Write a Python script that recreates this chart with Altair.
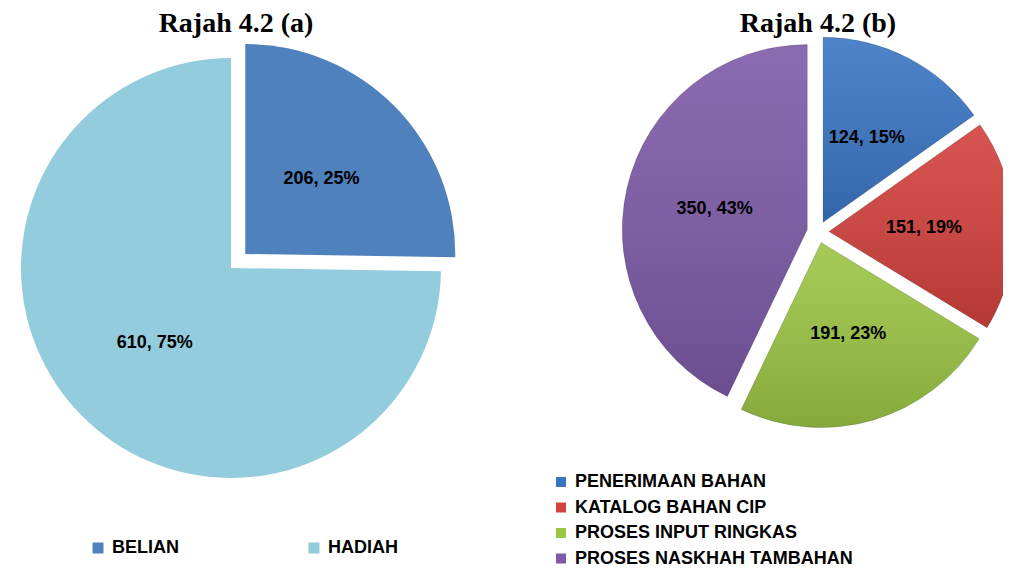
import altair as alt
import pandas as pd

# ---------------- data ----------------
TITLE_A = "Rajah 4.2 (a)"
TITLE_B = "Rajah 4.2 (b)"
CATEGORIES_A = ["BELIAN", "HADIAH"]
VALUES_A = [206, 610]
CATEGORIES_B = [
    "PENERIMAAN BAHAN",
    "KATALOG BAHAN CIP",
    "PROSES INPUT RINGKAS",
    "PROSES NASKHAH TAMBAHAN",
]
VALUES_B = [124, 151, 191, 350]

# ---------------- styles / layout ----------------
COLORS_A = ["#4f81bd", "#93cddd"]
COLORS_B = ["#3a75c4", "#d2413d", "#9bc544", "#7d5aa8"]
EXPLODE_A = [20, 0]
EXPLODE_B = [11, 11, 11, 11]
W, H = 995, 563
GEO_A = dict(cx=223, cy=260, r=210, label_r=107)
GEO_B = dict(cx=810, cy=224, r=185, label_r=95)
FONT = "Liberation Sans"
SERIF = "Liberation Serif"


def make_pie(categories, values, explode, colors, geo, legend, bevel=False):
    df = pd.DataFrame(
        {
            "category": categories,
            "value": values,
            "order": list(range(len(values))),
            "explode": explode,
        }
    )
    base = (
        alt.Chart(df)
        .transform_joinaggregate(total="sum(value)")
        .transform_window(cum="sum(value)", sort=[alt.SortField("order")])
        .transform_calculate(start="(datum.cum - datum.value) / datum.total * 2 * PI")
        .transform_calculate(end="datum.cum / datum.total * 2 * PI")
        .transform_calculate(mid="(datum.start + datum.end) / 2")
        .transform_calculate(px=f"{geo['cx']} + datum.explode * sin(datum.mid)")
        .transform_calculate(py=f"{geo['cy']} - datum.explode * cos(datum.mid)")
        .transform_calculate(
            label="datum.value + ', ' + format(datum.value / datum.total, '.0%')"
        )
    )
    pos = dict(
        x=alt.X("px:Q", scale=None, axis=None),
        y=alt.Y("py:Q", scale=None, axis=None),
        theta=alt.Theta("start:Q", scale=None, stack=False),
        theta2=alt.Theta2("end:Q"),
    )
    arcs = base.mark_arc(radius=geo["r"]).encode(
        color=alt.Color(
            "category:N",
            scale=alt.Scale(domain=categories, range=colors),
            sort=categories,
            legend=legend,
        ),
        **pos,
    )
    layers = [arcs]
    if bevel:
        shade = base.mark_arc(
            radius=geo["r"],
            fill=alt.LinearGradient(
                gradient="linear",
                x1=0,
                x2=0,
                y1=0,
                y2=1,
                stops=[
                    alt.GradientStop(color="rgba(255,255,255,0.10)", offset=0),
                    alt.GradientStop(color="rgba(0,0,0,0.14)", offset=1),
                ],
            ),
            stroke="rgba(0,0,0,0.15)",
            strokeWidth=1,
        ).encode(**pos)
        layers.append(shade)
    labels = base.mark_text(
        font=FONT, fontWeight="bold", fontSize=18, color="black",
        align="center", baseline="middle",
    ).encode(
        x=alt.X("px:Q", scale=None, axis=None),
        y=alt.Y("py:Q", scale=None, axis=None),
        theta=alt.Theta("mid:Q", scale=None, stack=False),
        radius=alt.value(geo["label_r"]),
        text="label:N",
    )
    layers.append(labels)
    return alt.layer(*layers)


common_legend = dict(
    title=None,
    orient="none",
    symbolType="square",
    symbolStrokeWidth=0,
    symbolOpacity=1,
    labelFont=FONT,
    labelFontWeight="bold",
    labelFontSize=18,
    labelColor="black",
    labelOffset=5,
    labelLimit=400,
    padding=0,
)

legend_a = alt.Legend(
    legendX=81, legendY=531, direction="horizontal", columnPadding=126,
    symbolSize=121, **common_legend,
)
legend_b = alt.Legend(
    legendX=544, legendY=465, direction="vertical", rowPadding=7.5,
    symbolSize=100, **common_legend,
)

pie_a = make_pie(CATEGORIES_A, VALUES_A, EXPLODE_A, COLORS_A, GEO_A, legend_a)
pie_b = make_pie(CATEGORIES_B, VALUES_B, EXPLODE_B, COLORS_B, GEO_B, legend_b, bevel=True)


def title_layer(text, x):
    return alt.Chart(pd.DataFrame({"t": [text]})).mark_text(
        font=SERIF, fontWeight="bold", fontSize=28, color="black",
        align="center", baseline="alphabetic",
    ).encode(x=alt.value(x), y=alt.value(24), text="t:N")


chart = (
    alt.layer(pie_a, pie_b, title_layer(TITLE_A, 228), title_layer(TITLE_B, 810))
    .resolve_scale(color="independent")
    .properties(width=W, height=H, autosize=alt.AutoSizeParams(type="none"), padding=0)
    .configure_view(stroke=None)
)

chart.save("out.html", embed_options={"renderer": "svg", "actions": False})
